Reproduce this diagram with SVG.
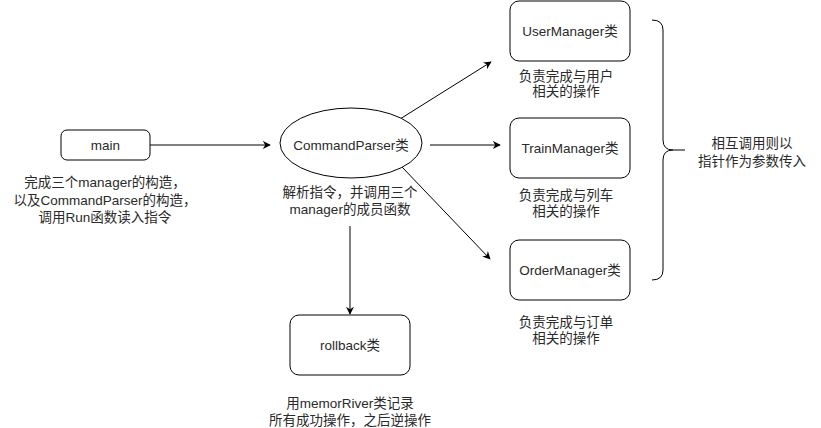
<svg xmlns="http://www.w3.org/2000/svg" width="821" height="428" viewBox="0 0 821 428">
<defs>
<marker id="arr" viewBox="0 0 10 10" refX="9" refY="5" markerWidth="8" markerHeight="8" markerUnits="userSpaceOnUse" orient="auto">
<path d="M0,0 L10,5 L0,10 L3,5 Z" fill="#000"/>
</marker>
</defs>
<style>
.box{fill:#fff;stroke:#000;stroke-width:1}
text{fill:#2a2a2a;text-anchor:middle;dominant-baseline:central;font-size:13.5px}
.c{stroke:#000;stroke-width:1;fill:none;marker-end:url(#arr)}
</style>
<rect width="821" height="428" fill="#fff"/>
<g id="connectors">
<line class="c" x1="150" y1="145" x2="270" y2="145"/>
<line class="c" x1="430" y1="145" x2="500" y2="145"/>
<line class="c" x1="400" y1="119" x2="491" y2="62"/>
<line class="c" x1="402" y1="167" x2="490" y2="259"/>
<line class="c" x1="350" y1="226" x2="350" y2="314"/>
</g>
<g font-family="Liberation Sans, Arial, Noto Sans CJK SC, sans-serif">
<g id="main">
<rect class="box" x="61" y="130" width="89" height="30" rx="6"/>
<text x="105.5" y="145">main</text>
<text x="105" y="182">完成三个manager的构造，</text>
<text x="105" y="200">以及CommandParser的构造，</text>
<text x="105" y="217">调用Run函数读入指令</text>
</g>
<g id="commandparser">
<ellipse class="box" cx="351" cy="143" rx="71" ry="35"/>
<text x="351" y="145">CommandParser类</text>
<text x="350" y="192">解析指令，并调用三个</text>
<text x="350" y="209">manager的成员函数</text>
</g>
<g id="usermanager">
<rect class="box" x="510" y="1" width="120" height="60" rx="9"/>
<text x="570" y="31">UserManager类</text>
<text x="566" y="76">负责完成与用户</text>
<text x="566" y="91">相关的操作</text>
</g>
<g id="trainmanager">
<rect class="box" x="510" y="118" width="120" height="60" rx="9"/>
<text x="570" y="148">TrainManager类</text>
<text x="566" y="195">负责完成与列车</text>
<text x="566" y="211">相关的操作</text>
</g>
<g id="ordermanager">
<rect class="box" x="510" y="240" width="120" height="60" rx="9"/>
<text x="570" y="270">OrderManager类</text>
<text x="566" y="322">负责完成与订单</text>
<text x="566" y="338">相关的操作</text>
</g>
<g id="rollback">
<rect class="box" x="290" y="315" width="120" height="60" rx="9"/>
<text x="350" y="345">rollback类</text>
<text x="350" y="403">用memorRiver类记录</text>
<text x="350" y="420">所有成功操作，之后逆操作</text>
</g>
<g id="brace">
<path d="M652,20 Q663,20 663,30 L663,140 Q663,150 673,150 L685,150 M673,150 Q663,150 663,160 L663,270 Q663,280 652,280" fill="none" stroke="#000" stroke-width="1"/>
<text x="752" y="143">相互调用则以</text>
<text x="752" y="161">指针作为参数传入</text>
</g>
</g>
</svg>
